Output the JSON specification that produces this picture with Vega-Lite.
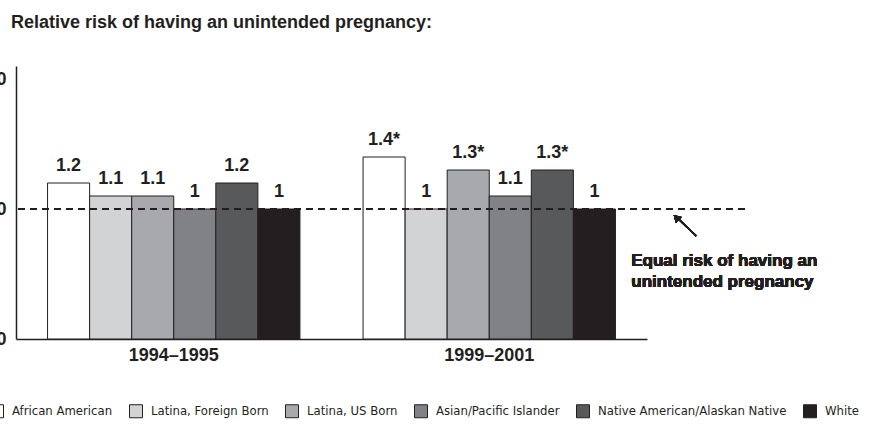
{
  "$schema": "https://vega.github.io/schema/vega-lite/v6.json",
  "width": 729,
  "height": 273,
  "autosize": {"type": "none"},
  "padding": {"left": 16, "top": 66, "right": 124, "bottom": 85},
  "background": "white",
  "config": {"view": {"stroke": null}, "font": "Liberation Sans"},
  "title": {
    "text": "Relative risk of having an unintended pregnancy:",
    "anchor": "start",
    "frame": "group",
    "dx": -5,
    "offset": 34,
    "fontSize": 18,
    "fontWeight": "bold",
    "color": "#231f20",
    "font": "Liberation Sans"
  },
  "data": {
    "values": [
      {"period": "1994–1995", "group": "African American", "risk": 1.2, "label": "1.2"},
      {"period": "1994–1995", "group": "Latina, Foreign Born", "risk": 1.1, "label": "1.1"},
      {"period": "1994–1995", "group": "Latina, US Born", "risk": 1.1, "label": "1.1"},
      {"period": "1994–1995", "group": "Asian/Pacific Islander", "risk": 1.0, "label": "1"},
      {"period": "1994–1995", "group": "Native American/Alaskan Native", "risk": 1.2, "label": "1.2"},
      {"period": "1994–1995", "group": "White", "risk": 1.0, "label": "1"},
      {"period": "1999–2001", "group": "African American", "risk": 1.4, "label": "1.4*"},
      {"period": "1999–2001", "group": "Latina, Foreign Born", "risk": 1.0, "label": "1"},
      {"period": "1999–2001", "group": "Latina, US Born", "risk": 1.3, "label": "1.3*"},
      {"period": "1999–2001", "group": "Asian/Pacific Islander", "risk": 1.1, "label": "1.1"},
      {"period": "1999–2001", "group": "Native American/Alaskan Native", "risk": 1.3, "label": "1.3*"},
      {"period": "1999–2001", "group": "White", "risk": 1.0, "label": "1"}
    ]
  },
  "layer": [
    {
      "mark": {"type": "bar", "stroke": "#231f20", "strokeWidth": 1},
      "encoding": {
        "x": {
          "field": "period", "type": "nominal", "sort": null,
          "scale": {"range": [0, 631], "paddingInner": 0.2, "paddingOuter": 0.1},
          "axis": {"title": null, "labelAngle": 0, "ticks": false, "domainColor": "#231f20", "domainWidth": 1.5,
                   "labelFontSize": 18, "labelFontWeight": "bold", "labelColor": "#231f20", "labelPadding": 7}
        },
        "xOffset": {
          "field": "group", "type": "nominal",
          "sort": ["African American", "Latina, Foreign Born", "Latina, US Born", "Asian/Pacific Islander", "Native American/Alaskan Native", "White"],
          "scale": {"paddingInner": 0, "paddingOuter": 0}
        },
        "y": {
          "field": "risk", "type": "quantitative",
          "scale": {"domain": [0, 2.1], "nice": false, "zero": true},
          "axis": {"values": [0, 1, 2], "title": null, "grid": false, "ticks": false, "domainColor": "#231f20", "domainWidth": 1.5,
                   "labelFontSize": 18, "labelFontWeight": "bold", "labelColor": "#231f20", "labelPadding": 10}
        },
        "fill": {
          "field": "group", "type": "nominal",
          "scale": {
            "domain": ["African American", "Latina, Foreign Born", "Latina, US Born", "Asian/Pacific Islander", "Native American/Alaskan Native", "White"],
            "range": ["#ffffff", "#d1d3d4", "#a7a9ac", "#808285", "#58595b", "#231f20"]
          },
          "legend": {
            "orient": "none", "legendX": -26, "legendY": 338, "direction": "horizontal", "columns": 6,
            "title": null, "symbolType": "square", "symbolSize": 169, "symbolStrokeColor": "#231f20",
            "symbolStrokeWidth": 1, "symbolOpacity": 1, "labelFont": "DejaVu Sans Condensed", "labelFontSize": 13,
            "labelColor": "#231f20", "columnPadding": 14, "labelOffset": 8, "labelLimit": 0
          }
        }
      }
    },
    {
      "mark": {"type": "text", "dy": -8, "baseline": "bottom", "fontSize": 18, "fontWeight": "bold", "color": "#231f20"},
      "encoding": {
        "x": {"field": "period", "type": "nominal", "sort": null},
        "xOffset": {"field": "group", "type": "nominal",
          "sort": ["African American", "Latina, Foreign Born", "Latina, US Born", "Asian/Pacific Islander", "Native American/Alaskan Native", "White"]},
        "y": {"field": "risk", "type": "quantitative"},
        "text": {"field": "label"}
      }
    },
    {
      "mark": {"type": "rule", "strokeDash": [7, 5], "color": "#231f20", "strokeWidth": 1},
      "encoding": {"y": {"datum": 1}}
    },
    {
      "mark": {"type": "text", "align": "left", "baseline": "top", "dx": 142, "fontSize": 17, "fontWeight": "bold", "color": "#231f20", "lineHeight": 21},
      "encoding": {
        "x": {"datum": "1999–2001"},
        "y": {"datum": 0.66},
        "text": {"value": ["Equal risk of having an", "unintended pregnancy"]}
      }
    },
    {
      "mark": {"type": "rule", "color": "#231f20", "strokeWidth": 1.5, "xOffset": 189, "x2Offset": 207},
      "encoding": {
        "x": {"datum": "1999–2001"},
        "x2": {"datum": "1999–2001"},
        "y": {"datum": 0.925},
        "y2": {"datum": 0.792}
      }
    },
    {
      "mark": {"type": "point", "shape": "triangle-up", "angle": -45, "filled": true, "size": 70, "opacity": 1, "color": "#231f20", "xOffset": 187},
      "encoding": {
        "x": {"datum": "1999–2001"},
        "y": {"datum": 0.935}
      }
    }
  ]
}
